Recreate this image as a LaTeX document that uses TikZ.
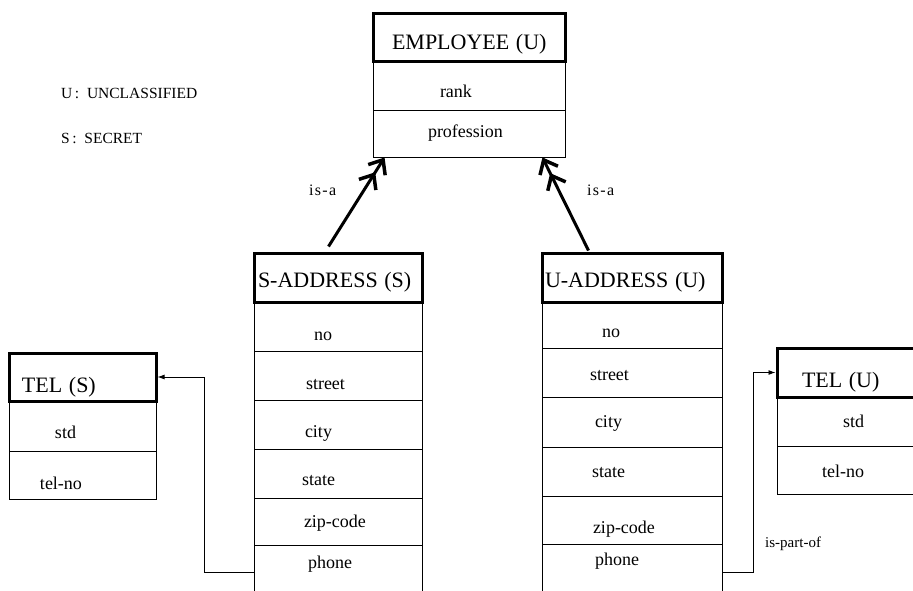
\documentclass[tikz,border=0pt]{standalone}
\usepackage{fontspec}
\setmainfont{Liberation Serif}
\usetikzlibrary{arrows.meta}

% One cell of a record box: name, style, text, left, right, top, bottom,
% text indent, baseline height above the bottom edge (all in pt, y grows downwards)
\newcommand\cellrow[9]{%
  \pgfmathsetmacro\cellW{#5-#4}%
  \pgfmathsetmacro\cellH{#7-#6}%
  \pgfmathsetmacro\cellTH{\cellH-1-#9}%
  \pgfmathsetmacro\cellTD{#9-1}%
  \node[#2, minimum width=\cellW pt, text width=\cellW pt,
        minimum height=\cellH pt, text height=\cellTH pt, text depth=\cellTD pt]
    (#1) at ({(#4+#5)/2},{(#6+#7)/2}) {\hspace*{#8pt}#3};%
}

\tikzset{
  row/.style={draw, line width=0.9pt, inner sep=0pt, align=left,
              font=\fontsize{18}{20}\selectfont},
  hdr/.style={draw, line width=3pt, inner sep=0pt, align=left,
              font=\fontsize{22}{24}\selectfont},
  isa/.style={line width=3pt,
              -{Straight Barb[length=12pt,width=20pt,line width=3.5pt,sep=1pt]
                Straight Barb[length=12pt,width=20pt,line width=3.5pt]}},
  link/.style={line width=0.9pt, -{Latex[length=7pt,width=5pt]}},
  lbl/.style={inner sep=0pt, anchor=base west,
              font=\fontsize{16}{18}\selectfont\addfontfeatures{LetterSpace=8}},
  legend/.style={inner sep=0pt, anchor=base west, font=\fontsize{15.5}{18}\selectfont},
}

\begin{document}
\begin{tikzpicture}[x=1pt, y=-1pt]
\useasboundingbox (0,0) rectangle (913,591);
\clip (0,0) rectangle (913,591);

% legend
\node[legend] (legU) at (61,99) {U\,:\ \ UNCLASSIFIED};
\node[legend] (legS) at (61,144) {S\,:\ \ SECRET};

% EMPLOYEE
\cellrow{emp-r}{row}{rank}{373}{565}{62}{110}{67}{12}
\cellrow{emp-p}{row}{profession}{373}{565}{110}{157}{55}{19}
\cellrow{emp-h}{hdr}{EMPLOYEE\hspace{0.3em}(U)}{373}{565}{14}{62}{19}{12}

% S-ADDRESS
\cellrow{sa-no}{row}{no}{254}{422}{302}{351}{60}{11}
\cellrow{sa-st}{row}{street}{254}{422}{351}{400}{52}{11}
\cellrow{sa-ci}{row}{city}{254}{422}{400}{449}{51}{12}
\cellrow{sa-sta}{row}{state}{254}{422}{449}{498}{48}{13}
\cellrow{sa-zip}{row}{zip-code}{254}{422}{498}{545}{50}{18}
\cellrow{sa-ph}{row}{phone}{254}{422}{545}{594}{54}{26}
\cellrow{sa-h}{hdr}{S-ADDRESS\hspace{0.3em}(S)}{254}{422}{253}{302}{4}{15}

% U-ADDRESS
\cellrow{ua-no}{row}{no}{542}{722}{302}{348}{60}{11}
\cellrow{ua-st}{row}{street}{542}{722}{348}{397}{48}{17}
\cellrow{ua-ci}{row}{city}{542}{722}{397}{447}{53}{20}
\cellrow{ua-sta}{row}{state}{542}{722}{447}{496}{50}{19}
\cellrow{ua-zip}{row}{zip-code}{542}{722}{496}{544}{51}{11}
\cellrow{ua-ph}{row}{phone}{542}{722}{544}{593}{53}{28}
\cellrow{ua-h}{hdr}{U-ADDRESS\hspace{0.3em}(U)}{542}{722}{253}{302}{3}{15}

% TEL (S)
\cellrow{ts-std}{row}{std}{9}{156}{401}{451}{46}{13}
\cellrow{ts-no}{row}{tel-no}{9}{156}{451}{499}{31}{10}
\cellrow{ts-h}{hdr}{TEL\hspace{0.3em}(S)}{9}{156}{353}{401}{13}{9}

% TEL (U)
\cellrow{tu-std}{row}{std}{777}{930}{397}{446}{66}{19}
\cellrow{tu-no}{row}{tel-no}{777}{930}{446}{494}{45}{17}
\cellrow{tu-h}{hdr}{TEL\hspace{0.3em}(U)}{777}{930}{348}{397}{25}{10}

% is-a links
\draw[isa] ([xshift=76pt,yshift=5pt]sa-h.north west) -- ([xshift=12pt]emp-p.south west);
\draw[isa] ([xshift=48pt,yshift=1pt]ua-h.north west) -- ([xshift=-23pt]emp-p.south east);
\node[lbl] (isa-l) at (309,195) {is-a};
\node[lbl] (isa-r) at (587,195) {is-a};

% part-of links
\draw[link] ([yshift=-2.5pt]sa-ph.west) -- ++(-49,0) |- (ts-h.east);
\draw[link] ([yshift=-3.5pt]ua-ph.east) -- ++(31,0) |- (tu-h.west);
\node[lbl, font=\fontsize{15}{17}\selectfont] (partof) at (765,547) {is-part-of};

\end{tikzpicture}
\end{document}
